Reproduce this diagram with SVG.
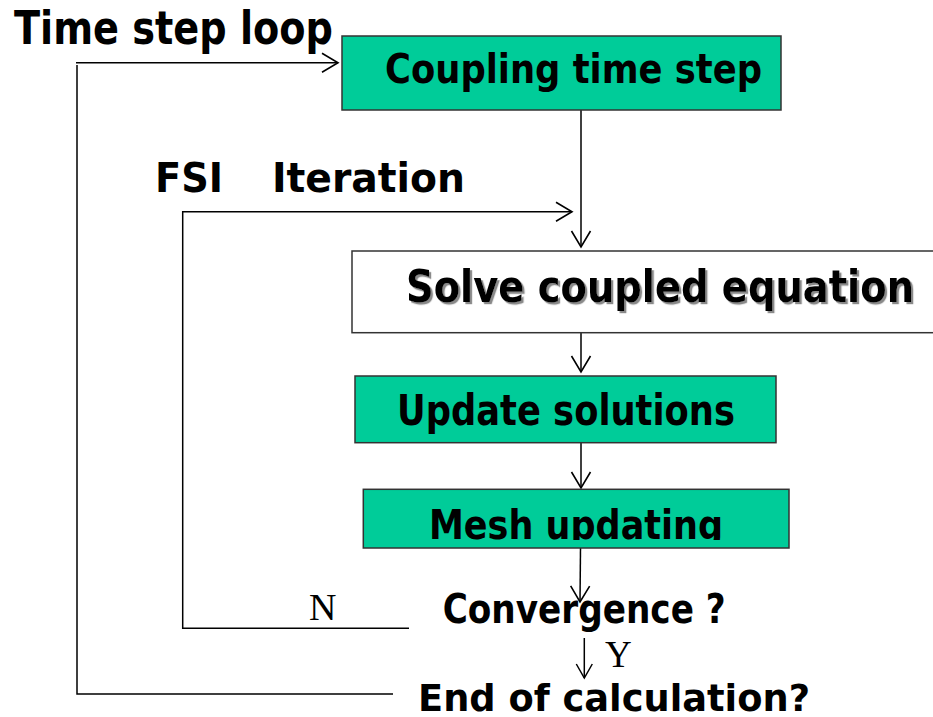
<svg xmlns="http://www.w3.org/2000/svg" width="933" height="717" viewBox="0 0 933 717">
  <style>
    .box { fill: #00CC99; stroke: #333333; stroke-width: 1.5; }
    .plain { fill: #ffffff; stroke: #333333; stroke-width: 1.5; }
    .lbl { font-family: "DejaVu Sans Condensed", "DejaVu Sans", "Liberation Sans", sans-serif; font-weight: bold; fill: #000000; }
    .yn { font-family: "Liberation Serif", "DejaVu Serif", serif; fill: #000000; }
    .wire { fill: none; stroke: #000000; stroke-width: 1.5; }
  </style>
  <defs>
    <marker id="chev" markerUnits="userSpaceOnUse" markerWidth="20" markerHeight="22" viewBox="-18 -11 20 22" refX="0" refY="0" orient="auto">
      <path d="M -16 -9.5 L 0 0 L -16 9.5" fill="none" stroke="#000" stroke-width="1.6"/>
    </marker>
    <marker id="chevSmall" markerUnits="userSpaceOnUse" markerWidth="18" markerHeight="20" viewBox="-16 -10 18 20" refX="0" refY="0" orient="auto">
      <path d="M -14 -8 L 0 0 L -14 8" fill="none" stroke="#000" stroke-width="1.5"/>
    </marker>
    <clipPath id="meshClip">
      <rect x="363" y="489" width="426" height="51"/>
    </clipPath>
    <!-- soft grey drop shadow for the solver caption -->
    <filter id="shadow" x="-5%" y="-20%" width="110%" height="150%">
      <feDropShadow dx="2.2" dy="2.2" stdDeviation="0.6" flood-color="#8a8a8a" flood-opacity="1"/>
    </filter>
  </defs>

  <!-- loop captions -->
  <text class="lbl" x="14" y="43.5" font-size="46" textLength="319" lengthAdjust="spacingAndGlyphs">Time step loop</text>
  <text class="lbl" x="155" y="191.7" font-size="41" textLength="68" lengthAdjust="spacingAndGlyphs">FSI</text>
  <text class="lbl" x="272" y="191.7" font-size="41" textLength="193" lengthAdjust="spacingAndGlyphs">Iteration</text>

  <!-- connectors -->
  <g id="connectors">
    <polyline class="wire" points="77,65 77,694 393,694" stroke-width="2.4"/>
    <line class="wire" x1="76" y1="62.7" x2="338" y2="62.7" marker-end="url(#chev)"/>
    <polyline class="wire" points="409,628.3 182.7,628.3 182.7,211.7 572,211.7" marker-end="url(#chev)"/>
    <line class="wire" x1="581" y1="110" x2="581" y2="247" marker-end="url(#chev)"/>
    <line class="wire" x1="581" y1="333" x2="581" y2="372" marker-end="url(#chev)"/>
    <line class="wire" x1="581" y1="443" x2="581" y2="488" marker-end="url(#chev)"/>
    <line class="wire" x1="580.5" y1="548" x2="580" y2="602" marker-end="url(#chev)"/>
    <line class="wire" x1="584.3" y1="638" x2="584.3" y2="678" marker-end="url(#chevSmall)"/>
    <text class="yn" x="309" y="620" font-size="38">N</text>
    <text class="yn" x="605" y="667" font-size="37">Y</text>
  </g>

  <g id="coupling-time-step">
    <rect class="box" x="342" y="36" width="439" height="74"/>
    <text class="lbl" x="385" y="83.3" font-size="41" textLength="377" lengthAdjust="spacingAndGlyphs">Coupling time step</text>
  </g>

  <g id="solve-coupled-equation">
    <rect class="plain" x="352" y="251" width="600" height="81.7"/>
    <text class="lbl" x="406" y="301.7" font-size="44" textLength="508" lengthAdjust="spacingAndGlyphs" filter="url(#shadow)">Solve coupled equation</text>
  </g>

  <g id="update-solutions">
    <rect class="box" x="355" y="376" width="421" height="66.7"/>
    <text class="lbl" x="397" y="425" font-size="43" textLength="338" lengthAdjust="spacingAndGlyphs">Update solutions</text>
  </g>

  <g id="mesh-updating">
    <rect class="box" x="363.3" y="489.3" width="425.7" height="58.7"/>
    <text class="lbl" x="429" y="538.5" font-size="41" textLength="294" lengthAdjust="spacingAndGlyphs" clip-path="url(#meshClip)">Mesh updating</text>
  </g>

  <g id="convergence">
    <text class="lbl" x="442.7" y="623.3" font-size="41" textLength="283" lengthAdjust="spacingAndGlyphs">Convergence ?</text>
  </g>

  <g id="end-of-calculation">
    <text class="lbl" x="418" y="710.5" font-size="38" textLength="392" lengthAdjust="spacingAndGlyphs">End of calculation?</text>
  </g>
</svg>
